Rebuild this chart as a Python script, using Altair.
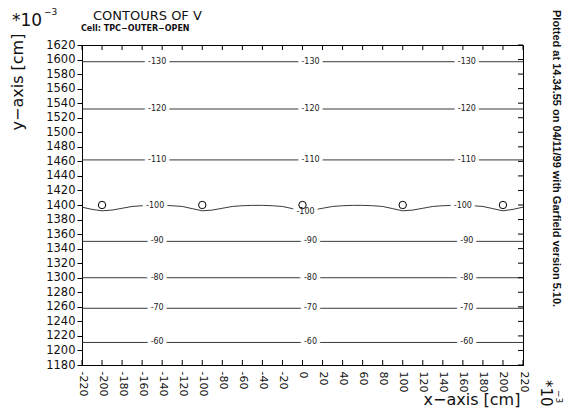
import altair as alt
import pandas as pd

# ---- data ----
x_ticks = [-220, -200, -180, -160, -140, -120, -100, -80, -60, -40, -20, 0,
           20, 40, 60, 80, 100, 120, 140, 160, 180, 200, 220]
y_ticks = [1180, 1200, 1220, 1240, 1260, 1280, 1300, 1320, 1340, 1360, 1380,
           1400, 1420, 1440, 1460, 1480, 1500, 1520, 1540, 1560, 1580, 1600, 1620]

# straight contour levels and their y positions
flat_levels = [-130, -120, -110, -90, -80, -70, -60]
flat_y = [1597, 1532, 1462, 1350, 1300, 1258, 1211]

# wavy -100 contour (x step 10)
wavy_x = list(range(-220, 221, 10))
wavy_y = [1397, 1394, 1392, 1393, 1395.5, 1398, 1399, 1399.5, 1399.5, 1399, 1398,
          1395, 1392, 1393, 1395.5, 1398, 1399, 1399.5, 1399.5, 1399, 1398,
          1395, 1392, 1393, 1395.5, 1398, 1399, 1399.5, 1399.5, 1399, 1398,
          1395, 1392, 1393, 1395.5, 1398, 1399, 1399.5, 1399.5, 1399, 1398,
          1395, 1392, 1394, 1397]

# wires
wire_x = [-200, -100, 0, 100, 200]
wire_y = [1400, 1400, 1400, 1400, 1400]

# contour labels
label_x_cols = [-145, 8, 164]
label_levels = [-130, -120, -110, -100, -90, -80, -70, -60]
label_rows_y = [1597, 1532, 1462, 1398, 1350, 1300, 1258, 1211]
label_x_100 = [-147, 3, 160]
label_y_100 = [1398, 1391, 1398]

W, H = 441, 320

# ---- tables ----
rows = []
for lev, yv in zip(flat_levels, flat_y):
    rows.append({"lev": lev, "x": -220, "y": yv})
    rows.append({"lev": lev, "x": 220, "y": yv})
for xv, yv in zip(wavy_x, wavy_y):
    rows.append({"lev": -100, "x": xv, "y": yv})
lines_df = pd.DataFrame(rows)

lab_rows = []
for lev, yv in zip(label_levels, label_rows_y):
    if lev == -100:
        for xv, yy in zip(label_x_100, label_y_100):
            lab_rows.append({"x": xv, "y": yy, "t": str(lev)})
    else:
        for xv in label_x_cols:
            lab_rows.append({"x": xv, "y": yv, "t": str(lev)})
labels_df = pd.DataFrame(lab_rows)

wires_df = pd.DataFrame({"x": wire_x, "y": wire_y})
xt_df = pd.DataFrame({"x": x_ticks})
yt_df = pd.DataFrame({"y": y_ticks})

xs = alt.Scale(domain=[-220, 220], nice=False, zero=False)
ys = alt.Scale(domain=[1180, 1620], nice=False, zero=False)

FONT = "DejaVu Sans"
INK = "#111111"

x_axis = alt.Axis(values=x_ticks, labelAngle=90, labelAlign="left",
                  labelBaseline="middle", ticks=False, labelPadding=6,
                  title=None, grid=False, domainColor="black",
                  labelFont=FONT, labelFontSize=11, labelColor=INK,
                  labelOverlap=False, labelFlush=False,
                  labelExpr="datum.value < 0 ? '-' + abs(datum.value) : '' + datum.value")
y_axis = alt.Axis(values=y_ticks, tickSize=5, tickColor="black", labelPadding=2,
                  title=None, grid=False, domainColor="black",
                  labelFont=FONT, labelFontSize=11.5, labelColor=INK,
                  labelOverlap=False, labelFlush=False, format="d")

XE = lambda: alt.X("x:Q", scale=xs, axis=x_axis)
YE = lambda: alt.Y("y:Q", scale=ys, axis=y_axis)

base = alt.Chart(lines_df).mark_line(color="#222222", strokeWidth=0.9).encode(
    x=XE(), y=YE(), detail="lev:N", order="x:Q",
)

label_bg = alt.Chart(labels_df).mark_text(
    font=FONT, fontSize=8, color="white", stroke="white", strokeWidth=7
).encode(x=XE(), y=YE(), text="t:N")

label_fg = alt.Chart(labels_df).mark_text(
    font=FONT, fontSize=8, color="#222222"
).encode(x=XE(), y=YE(), text="t:N")

wires = alt.Chart(wires_df).mark_point(
    shape="circle", size=55, filled=False, color="black", strokeWidth=1, opacity=1
).encode(x=XE(), y=YE())

tick_bottom = alt.Chart(xt_df).mark_rule(color="black", strokeWidth=1).encode(
    x=XE(), y=alt.value(H), y2=alt.value(H - 5))
tick_top = alt.Chart(xt_df).mark_rule(color="black", strokeWidth=1).encode(
    x=XE(), y=alt.value(0), y2=alt.value(5))
tick_right = alt.Chart(yt_df).mark_rule(color="black", strokeWidth=1).encode(
    y=YE(), x=alt.value(W), x2=alt.value(W - 5))


def txt(s, x, y, size, angle=0, align="left", baseline="alphabetic", weight="normal", font=FONT):
    return alt.Chart(pd.DataFrame({"t": [s]})).mark_text(
        font=font, fontSize=size, angle=angle, align=align, baseline=baseline,
        fontWeight=weight, color=INK
    ).encode(x=alt.value(x), y=alt.value(y), text="t:N")


annots = [
    txt("CONTOURS OF V", 11, -25, 13),
    txt("*10", -70, -19, 17),
    txt("\u22123", -38, -30, 9),
    txt("Cell: TPC\u2212OUTER\u2212OPEN", -1, -14, 8, weight="bold"),
    txt("y\u2212axis [cm]", -64, 37, 16, angle=270, align="center", baseline="middle"),
    txt("x\u2212axis [cm]", 390, 360, 16, align="center"),
    txt("Plotted at 14.34.55 on 04/11/99 with Garfield version 5.10.", 474, -35, 11,
        angle=90, align="left", baseline="middle", weight="bold",
        font="Liberation Sans Narrow, Liberation Sans"),
    txt("*10", 464, 335, 15, angle=90, align="left", baseline="middle"),
    txt("\u22123", 477, 345, 9, angle=90, align="left", baseline="middle"),
]

chart = alt.layer(
    base, label_bg, label_fg, wires, tick_bottom, tick_top, tick_right, *annots
).properties(
    width=W, height=H,
    autosize=alt.AutoSizeParams(type="none"),
    padding={"left": 74, "top": 37, "right": 44, "bottom": 44},
    background="white",
).configure_view(stroke="black", strokeWidth=1)

chart.save("out.html", embed_options={"renderer": "svg", "actions": False})
